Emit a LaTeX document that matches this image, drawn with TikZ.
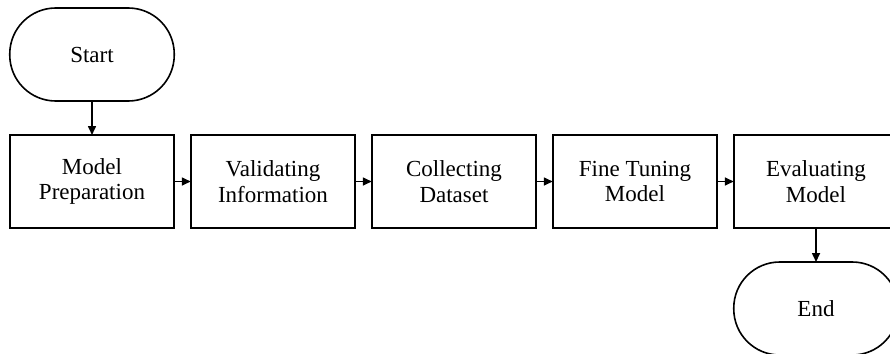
\documentclass[tikz,border=0pt]{standalone}
\usepackage{fontspec}
\setmainfont{Liberation Serif}
\usetikzlibrary{positioning,arrows.meta}

\begin{document}
\begin{tikzpicture}[x=1pt,y=-1pt,
    process/.style = {draw, line width=1.6pt, minimum width=164.5pt,
            minimum height=93pt, align=center, inner sep=2pt, outer sep=0pt,
            font=\fontsize{23}{25.5}\selectfont},
    term/.style = {process, rounded corners=46pt},
    link/.style = {-{Triangle[length=9pt,width=8pt]}, line width=1.6pt}]
            \useasboundingbox (0,0) rectangle (890,353);
            \clip (0,0) rectangle (890,353);
            \node[term] (start) at (92,54.5) {Start};
            \node[process] (prep) at (92,181.5) {Model\\Preparation};
            \node[process,right=16.5pt of prep] (valid) {Validating\\Information};
            \node[process,right=16.5pt of valid] (collect) {Collecting\\Dataset};
            \node[process,right=16.5pt of collect] (tune) {Fine Tuning\\Model};
            \node[process,right=16.5pt of tune] (eval) {Evaluating\\Model};
            \node[term,below=34pt of eval] (stop) {End};
            %\draw (0,0) circle (1pt);
            \draw[link] (start) -- (prep);
            \draw[link] (prep) -- (valid);
            \draw[link] (valid) -- (collect);
            \draw[link] (collect) -- (tune);
            \draw[link] (tune) -- (eval);
            \draw[link] (eval) -- (stop);
        \end{tikzpicture}
\end{document}
